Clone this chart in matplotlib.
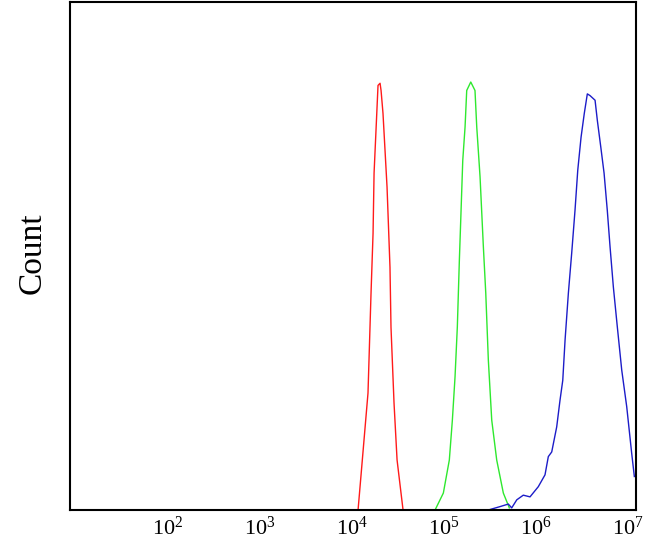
import matplotlib
matplotlib.use('Agg')
import matplotlib.pyplot as plt
import numpy as np

# values: log10(fluorescence) and count
red_log = [4.071, 4.111, 4.179, 4.212, 4.234, 4.245, 4.266, 4.288, 4.310, 4.321,
           4.342, 4.386, 4.418, 4.429, 4.462, 4.495, 4.560]
red_cnt = [0, 10.2, 27.6, 51.2, 65.3, 79.5, 89.6, 100.2, 100.7, 99.0,
           93.6, 76.2, 57.3, 43.1, 25.2, 11.8, 0]

green_log = [4.908, 4.998, 5.063, 5.096, 5.125, 5.150, 5.172, 5.187, 5.209, 5.234,
             5.252, 5.296, 5.342, 5.361, 5.397, 5.433, 5.459, 5.487, 5.524, 5.578,
             5.650, 5.715]
green_cnt = [0, 4.0, 11.8, 21.2, 31.4, 43.2, 58.9, 68.4, 82.5, 90.4,
             99.0, 101.0, 99.0, 90.4, 78.6, 62.1, 51.2, 35.4, 21.2, 11.8,
             4.0, 0.5]

blue_log = [5.487, 5.614, 5.704, 5.741, 5.796, 5.867, 5.940, 6.030, 6.103, 6.139,
            6.176, 6.230, 6.266, 6.296, 6.321, 6.357, 6.393, 6.429, 6.459, 6.495,
            6.530, 6.563, 6.592, 6.647, 6.672, 6.709, 6.745, 6.780, 6.810, 6.846,
            6.889, 6.937, 6.991, 7.045, 7.074]
blue_cnt = [0, 0.8, 1.4, 0.5, 2.4, 3.5, 3.1, 5.5, 8.3, 12.6,
            13.7, 19.6, 25.9, 30.6, 40.1, 51.2, 60.6, 70.7, 80.2, 88.0,
            93.6, 98.2, 97.8, 96.7, 91.9, 85.7, 79.5, 70.7, 62.1, 52.6,
            43.2, 33.0, 24.4, 13.4, 7.9]

tick_exp = [2, 3, 4, 5, 6, 7]

plt.rcParams['font.family'] = ['Liberation Serif', 'DejaVu Serif']
plt.rcParams['mathtext.fontset'] = 'custom'
plt.rcParams['mathtext.rm'] = 'Liberation Serif'

fig = plt.figure(figsize=(6.63, 5.53), dpi=100)
ax = fig.add_axes([70/663, 43/553, 566/663, 508.5/553])

ax.plot(10**np.array(red_log), red_cnt, color='#ff1a1a', lw=1.0)
ax.plot(10**np.array(green_log), green_cnt, color='#2ee82e', lw=1.0)
ax.plot(10**np.array(blue_log), blue_cnt, color='#1c1cc8', lw=1.0)

ax.set_xscale('log')
ax.set_xlim(10**0.94, 10**7.092)
ax.set_ylim(0, 120)
ax.set_xticks([10.0**k for k in tick_exp])
ax.set_xticklabels([r'$\mathregular{10^{%d}}$' % k for k in tick_exp], fontsize=16)
ax.xaxis.set_minor_locator(matplotlib.ticker.NullLocator())
ax.set_yticks([])
ax.tick_params(axis='x', length=0, pad=5)
for s in ax.spines.values():
    s.set_linewidth(1.5)

fig.text(32/663, 1 - 253/553, 'Count', rotation=90, va='center', ha='center',
         fontsize=24)

fig.savefig('out.png', dpi=100)
